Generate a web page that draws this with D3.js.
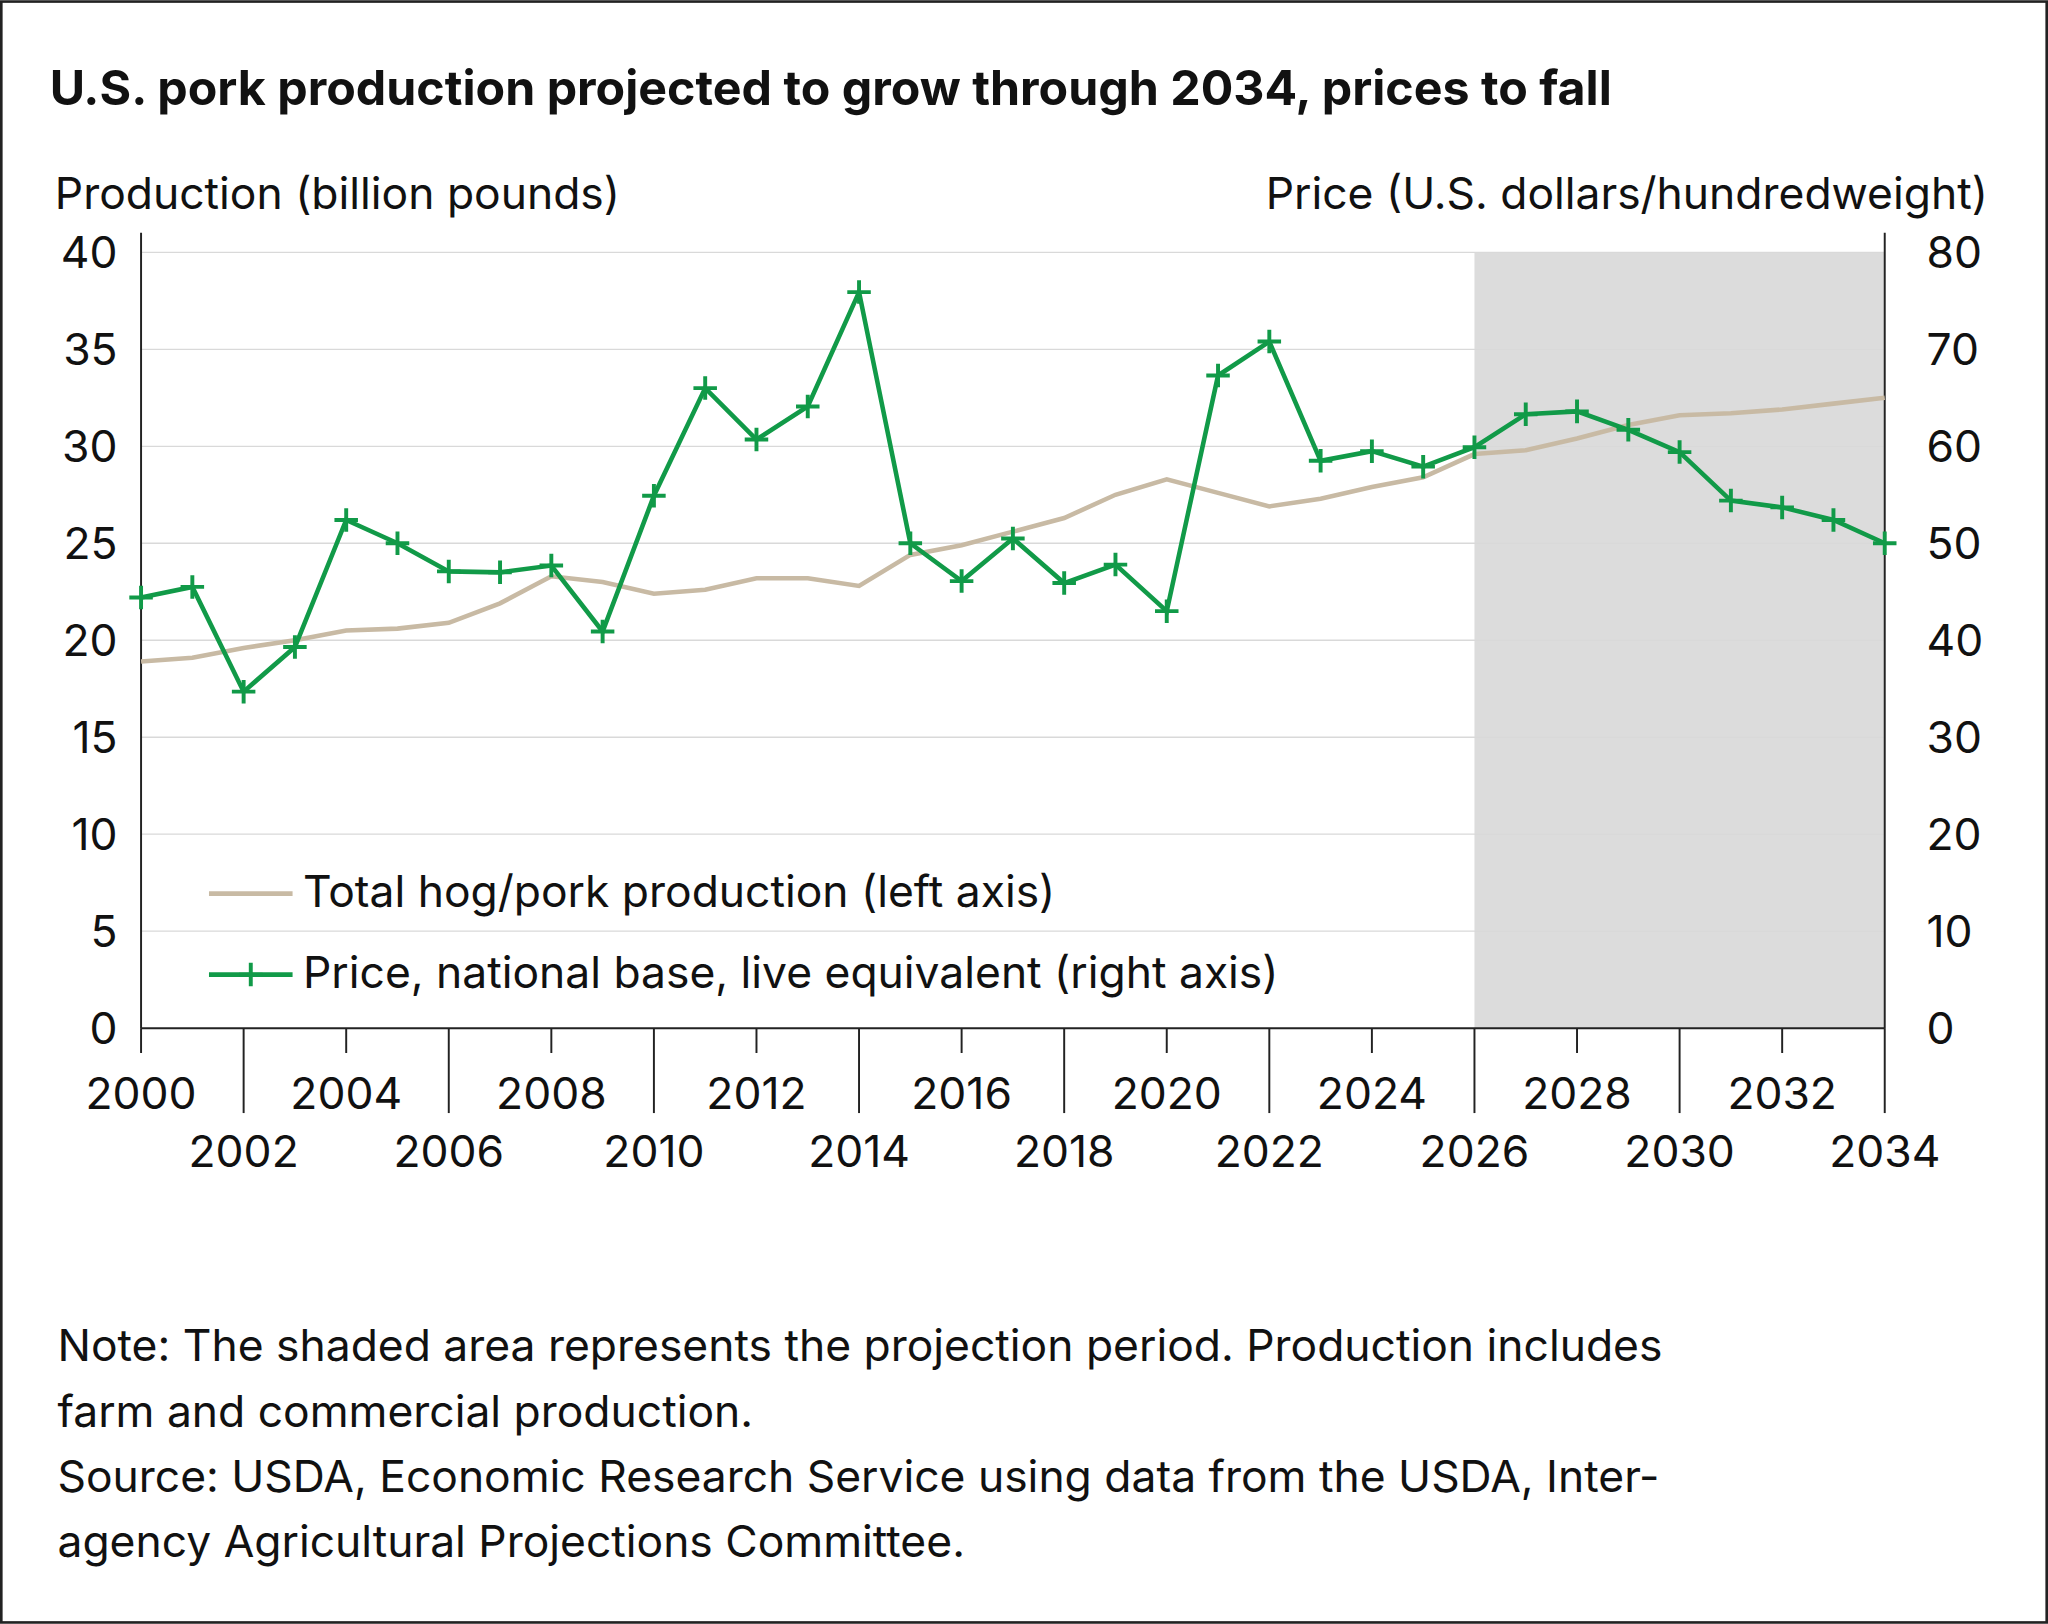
<!DOCTYPE html>
<html><head><meta charset="utf-8">
<script src="https://cdn.jsdelivr.net/npm/d3@7"></script>
<style>body{margin:0;background:#fff}</style></head>
<body><svg id="c" width="2048" height="1624" viewBox="0 0 1568 1243"></svg>
<script>
const years = d3.range(2000, 2035);
const production = [18.9,19.1,19.6,20.0,20.5,20.6,20.9,21.9,23.3,23.0,22.4,22.6,23.2,23.2,22.8,24.4,24.9,25.6,26.3,27.5,28.3,27.6,26.9,27.3,27.9,28.4,29.6,29.8,30.4,31.1,31.6,31.7,31.9,32.2,32.5];
const price = [44.4,45.5,34.7,39.3,52.4,50.0,47.1,47.0,47.7,40.9,54.9,66.0,60.7,64.1,75.9,50.0,46.1,50.5,45.9,47.8,43.0,67.3,70.8,58.5,59.5,57.9,59.9,63.3,63.6,61.7,59.4,54.4,53.7,52.4,50.0];
const leftTicks = [0,5,10,15,20,25,30,35,40];
const rightTicks = [0,10,20,30,40,50,60,70,80];
const projStart = 2026, projEnd = 2034;

const svg = d3.select("#c");
const F = "Inter, 'Noto Sans', sans-serif";
const TAN = "#c8baa4", GREEN = "#119a48";
svg.append("rect").attr("x",1).attr("y",1).attr("width",1566).attr("height",1241).attr("fill","#fff").attr("stroke","#222").attr("stroke-width",2);
const x = d3.scaleLinear().domain([2000,2034]).range([108,1443]);
const yL = d3.scaleLinear().domain([0,40]).range([787,193]);
const yR = d3.scaleLinear().domain([0,80]).range([787,193]);

svg.append("rect").attr("x",x(projStart)).attr("y",yL(40)).attr("width",x(projEnd)-x(projStart)).attr("height",yL(0)-yL(40)).attr("fill","#dcdcdc");
leftTicks.forEach(t=>{ if(t>0) svg.append("line").attr("x1",108).attr("x2",1443).attr("y1",yL(t)).attr("y2",yL(t)).attr("stroke","#d9d9d9").attr("stroke-width",1);});
svg.append("line").attr("x1",108).attr("x2",108).attr("y1",178).attr("y2",787).attr("stroke","#222").attr("stroke-width",1.5);
svg.append("line").attr("x1",1443).attr("x2",1443).attr("y1",178).attr("y2",787).attr("stroke","#222").attr("stroke-width",1.5);
svg.append("line").attr("x1",108).attr("x2",1443).attr("y1",787).attr("y2",787).attr("stroke","#222").attr("stroke-width",1.5);

leftTicks.forEach(t=>svg.append("text").attr("x",90).attr("y",yL(t)+12).attr("text-anchor","end").attr("font-family",F).attr("font-size",34).attr("fill","#111").text(t));
rightTicks.forEach(t=>svg.append("text").attr("x",1475).attr("y",yR(t)+12).attr("font-family",F).attr("font-size",34).attr("fill","#111").text(t));
years.filter(y=>y%2===0).forEach(yr=>{
  const top = ((yr-2000)/2)%2===0;
  svg.append("line").attr("x1",x(yr)).attr("x2",x(yr)).attr("y1",787).attr("y2",top?806:852).attr("stroke","#222").attr("stroke-width",1.5);
  svg.append("text").attr("x",x(yr)).attr("y",top?849:893).attr("text-anchor","middle").attr("font-family",F).attr("font-size",34).attr("fill","#111").text(yr);
});

svg.append("text").attr("x",38).attr("y",80).attr("font-family",F).attr("font-weight",700).attr("font-size",37).attr("fill","#111").text("U.S. pork production projected to grow through 2034, prices to fall");
svg.append("text").attr("x",42).attr("y",160).attr("font-family",F).attr("font-size",34).attr("fill","#111").text("Production (billion pounds)");
svg.append("text").attr("x",1522).attr("y",160).attr("text-anchor","end").attr("font-family",F).attr("font-size",34).attr("fill","#111").text("Price (U.S. dollars/hundredweight)");

const lineP = d3.line().x((d,i)=>x(years[i])).y(d=>yL(d));
const lineR = d3.line().x((d,i)=>x(years[i])).y(d=>yR(d));
svg.append("path").attr("d",lineP(production)).attr("fill","none").attr("stroke",TAN).attr("stroke-width",3.5);
svg.append("path").attr("d",lineR(price)).attr("fill","none").attr("stroke",GREEN).attr("stroke-width",3.5);
price.forEach((d,i)=>{
  const cx=x(years[i]), cy=yR(d);
  svg.append("path").attr("d",`M${cx-9},${cy}H${cx+9}M${cx},${cy-9}V${cy+9}`).attr("stroke",GREEN).attr("stroke-width",3);
});

// legend
svg.append("line").attr("x1",160).attr("x2",224).attr("y1",684).attr("y2",684).attr("stroke",TAN).attr("stroke-width",3.5);
svg.append("text").attr("x",232).attr("y",694).attr("font-family",F).attr("font-size",34).attr("fill","#111").text("Total hog/pork production (left axis)");
svg.append("line").attr("x1",160).attr("x2",224).attr("y1",746).attr("y2",746).attr("stroke",GREEN).attr("stroke-width",3.5);
svg.append("path").attr("d","M183,746H201M192,737V755").attr("stroke",GREEN).attr("stroke-width",3);
svg.append("text").attr("x",232).attr("y",756).attr("font-family",F).attr("font-size",34).attr("fill","#111").text("Price, national base, live equivalent (right axis)");

const notes = ["Note: The shaded area represents the projection period. Production includes","farm and commercial production.","Source: USDA, Economic Research Service using data from the USDA, Inter-","agency Agricultural Projections Committee."];
notes.forEach((t,i)=>svg.append("text").attr("x",44).attr("y",1042+i*50).attr("font-family",F).attr("font-size",34).attr("fill","#111").text(t));
</script></body></html>
